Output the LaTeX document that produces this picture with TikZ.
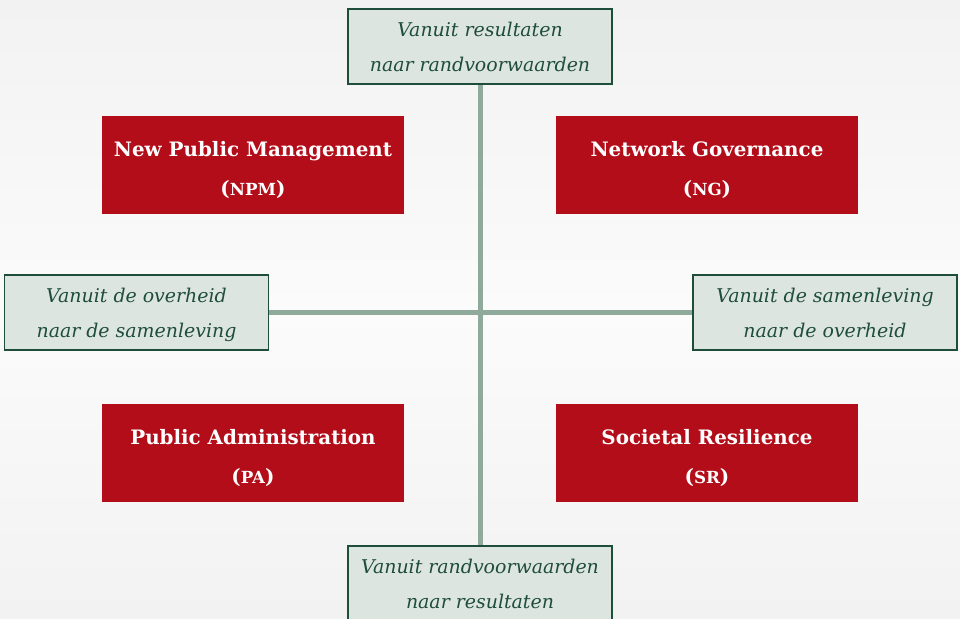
\documentclass[tikz,border=0pt]{standalone}
\usepackage{fontspec}
\setmainfont{DejaVu Serif}
\definecolor{redbox}{HTML}{B30D1A}
\definecolor{greenfill}{HTML}{DDE5E0}
\definecolor{greendraw}{HTML}{1E4D3A}
\definecolor{axiscol}{HTML}{8FA99A}
\definecolor{bgtop}{HTML}{F1F2F1}
\definecolor{bgmid}{HTML}{FBFBFB}
\newcommand{\fsc}[1]{{\fontsize{12.5}{12}\selectfont #1}}
\newcommand{\gtext}[2]{\rule{0pt}{9pt}#1\\\smash{#2}}
\newcommand{\rtext}[2]{\rule{0pt}{17pt}#1\\\smash{(\fsc{#2})}}
\tikzset{
  greenbox/.style={draw=greendraw, line width=1.1pt, fill=greenfill, text=greendraw,
    minimum width=198pt, minimum height=56.25pt, inner sep=0pt, align=center,
    font=\fontsize{14.2}{26.25}\selectfont\itshape},
  redblock/.style={fill=redbox, text=white, minimum width=226.5pt, minimum height=73.5pt,
    inner sep=0pt, align=center, font=\fontsize{14.9}{29.25}\selectfont\bfseries},
  axisline/.style={draw=axiscol, line width=3.75pt}
}
\begin{document}
\begin{tikzpicture}[x=0.75pt,y=-0.75pt]
\useasboundingbox (0,0) rectangle (960,618);
\clip (0,0) rectangle (960,618);
\shade[top color=bgtop, bottom color=bgmid] (0,0) rectangle (960,309);
\shade[top color=bgmid, bottom color=bgtop] (0,309) rectangle (960,618);
\node[greenbox] (top) at (480,46.5) {\gtext{Vanuit resultaten}{naar randvoorwaarden}};
\node[greenbox] (bottom) at (480,583.5) {\gtext{Vanuit randvoorwaarden}{naar resultaten}};
\node[greenbox] (left) at (136.5,312.5) {\gtext{Vanuit de overheid}{naar de samenleving}};
\node[greenbox] (right) at (825,312.5) {\gtext{Vanuit de samenleving}{naar de overheid}};
\draw[axisline] (top.south) -- (bottom.north);
\draw[axisline] (left.east) -- (right.west);
\node[redblock] (npm) at (253,165) {\rtext{New Public Management}{NPM}};
\node[redblock] (ng) at (707,165) {\rtext{Network Governance}{NG}};
\node[redblock] (pa) at (253,453) {\rtext{Public Administration}{PA}};
\node[redblock] (sr) at (707,453) {\rtext{Societal Resilience}{SR}};
\end{tikzpicture}
\end{document}
